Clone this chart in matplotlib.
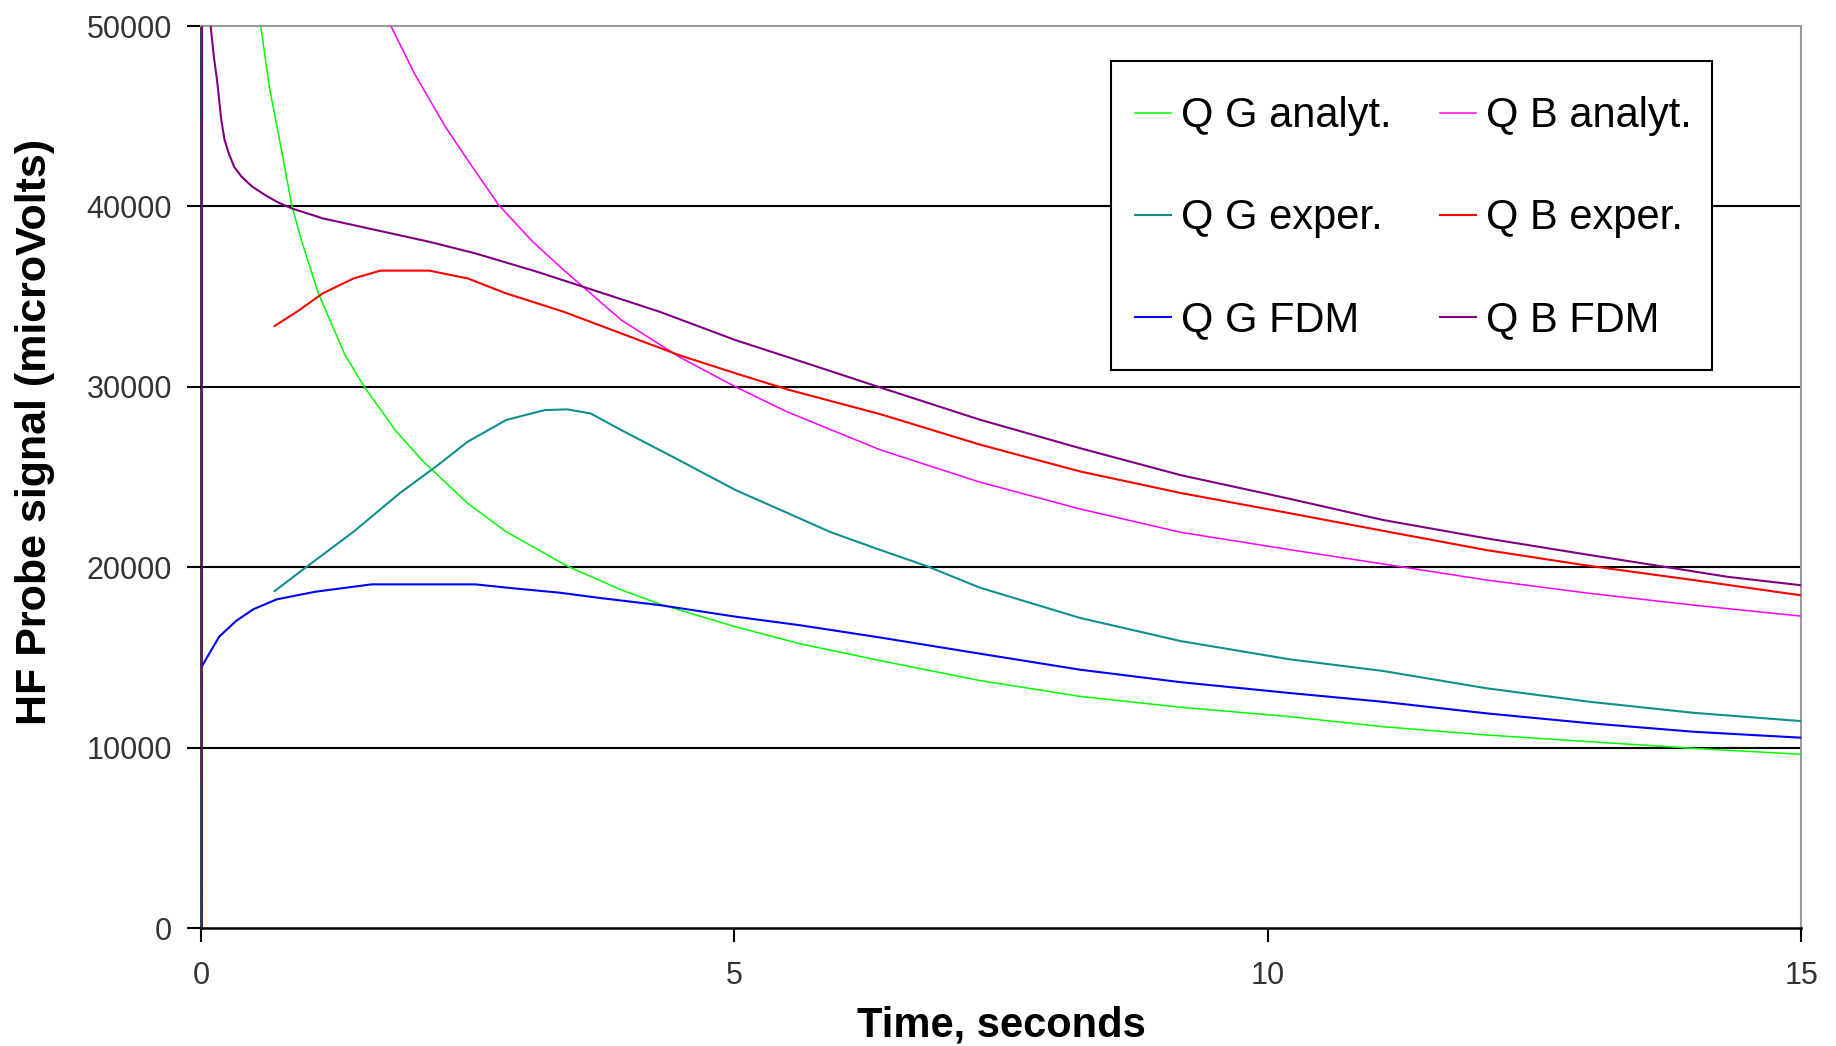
import matplotlib
matplotlib.use("Agg")
import matplotlib.pyplot as plt
from matplotlib.patches import Rectangle

plt.rcParams['font.family'] = ['Liberation Sans', 'DejaVu Sans']

# ---- data (time in s, signal in microvolts) ----
t_qg_an = [0.56, 0.64, 0.76, 0.85, 0.94, 1.10, 1.35, 1.53, 1.82, 2.07, 2.50, 2.86, 3.43,
           3.94, 4.30, 5.01, 5.62, 6.37, 7.30, 8.24, 9.18, 10.2, 11.08, 12.05, 13.02, 13.99, 15.0]
v_qg_an = [50000, 46630, 42940, 40080, 38140, 35180, 31760, 30000, 27600, 25940, 23540, 21970, 20070,
           18740, 17960, 16700, 15750, 14820, 13720, 12840, 12240, 11720, 11160, 10700, 10330, 9960, 9630]

t_qg_ex = [0.69, 1.00, 1.43, 1.86, 2.22, 2.50, 2.86, 3.22, 3.43, 3.65, 3.94, 4.48, 5.01, 5.50,
           5.90, 6.37, 6.80, 7.30, 8.24, 9.18, 10.2, 11.08, 12.05, 13.02, 13.99, 15.0]
v_qg_ex = [18680, 20070, 21970, 24090, 25660, 26960, 28160, 28710, 28750, 28530, 27600, 25940, 24280, 23000,
           21950, 20950, 20070, 18870, 17190, 15910, 14900, 14250, 13290, 12540, 11930, 11470]

t_qg_fdm = [0.01, 0.06, 0.17, 0.33, 0.49, 0.71, 1.07, 1.43, 1.60, 2.57, 2.93, 3.36, 3.76, 4.30,
            5.01, 5.62, 6.37, 7.30, 8.24, 9.18, 10.2, 11.08, 12.05, 13.02, 13.99, 15.0]
v_qg_fdm = [14520, 15040, 16150, 17030, 17670, 18220, 18640, 18920, 19050, 19050, 18830, 18590, 18280, 17900,
            17260, 16780, 16100, 15210, 14320, 13630, 13030, 12540, 11900, 11350, 10880, 10550]

t_qb_an = [1.78, 2.00, 2.29, 2.50, 2.79, 3.11, 3.40, 3.58, 3.94, 4.48, 5.01, 5.50, 6.37, 7.30,
           8.24, 9.18, 10.2, 11.08, 12.05, 13.02, 13.99, 15.0]
v_qb_an = [50000, 47370, 44420, 42570, 40080, 38040, 36470, 35550, 33700, 31670, 30000, 28600, 26500, 24720,
           23230, 21940, 20980, 20180, 19290, 18550, 17900, 17290]

t_qb_ex = [0.69, 0.92, 1.14, 1.43, 1.68, 2.14, 2.50, 2.86, 3.40, 3.94, 4.48, 5.01, 5.50, 6.37,
           7.30, 8.24, 9.18, 10.2, 11.08, 12.05, 13.02, 13.99, 15.0]
v_qb_ex = [33370, 34250, 35180, 36010, 36440, 36440, 36010, 35180, 34160, 32960, 31760, 30750, 29850, 28480,
           26800, 25310, 24120, 23000, 22020, 20950, 20070, 19290, 18440]

t_qb_fdm = [0.0, 0.02, 0.09, 0.12, 0.15, 0.19, 0.22, 0.26, 0.31, 0.38, 0.48, 0.60, 0.72, 0.85, 1.14,
            1.71, 2.14, 2.57, 3.15, 3.58, 4.30, 5.01, 5.50, 6.37, 7.30, 8.24, 9.18, 10.2, 11.08,
            12.05, 13.02, 13.67, 14.31, 15.0]
v_qb_fdm = [0, 120000, 50000, 48300, 47000, 44790, 43700, 42940, 42200, 41650, 41100, 40630, 40230, 39890, 39340,
            38600, 38040, 37400, 36380, 35550, 34160, 32590, 31650, 29960, 28180, 26600, 25110, 23800, 22620,
            21600, 20675, 20070, 19470, 19000]

series = [
    ("Q G analyt.", t_qg_an, v_qg_an, "#00ff00", 1.1),
    ("Q G exper.", t_qg_ex, v_qg_ex, "#0f8f8f", 1.5),
    ("Q G FDM", t_qg_fdm, v_qg_fdm, "#0000ff", 1.5),
    ("Q B analyt.", t_qb_an, v_qb_an, "#ff00ff", 1.1),
    ("Q B exper.", t_qb_ex, v_qb_ex, "#ff0000", 1.5),
    ("Q B FDM", t_qb_fdm, v_qb_fdm, "#800080", 1.5),
]

fig = plt.figure(figsize=(18.36, 10.46), dpi=100)
ax = fig.add_axes([0.1095, 0.1128, 0.8715, 0.8623])

for yv in [10000, 20000, 30000, 40000]:
    ax.axhline(yv, color="black", lw=1.5, zorder=1)

for label, t, v, c, lw in series:
    ax.plot(t, v, color=c, lw=lw, label=label, zorder=3)

ax.set_xlim(0, 15)
ax.set_ylim(0, 50000)
ax.set_xticks([0, 5, 10, 15])
ax.set_yticks([0, 10000, 20000, 30000, 40000, 50000])
ax.set_yticklabels(["0", "10000", "20000", "30000", "40000", "50000"])

ax.tick_params(axis="both", direction="out", length=10, width=1.5, color="black",
               labelsize=22, labelcolor="#333333")
ax.tick_params(axis="x", pad=14)
ax.tick_params(axis="y", pad=11)

for side in ["left", "bottom"]:
    ax.spines[side].set_color("black")
    ax.spines[side].set_linewidth(1.8)
for side in ["top", "right"]:
    ax.spines[side].set_color("#9a9a9a")
    ax.spines[side].set_linewidth(1.5)

ax.set_xlabel("Time, seconds", fontsize=30, fontweight="bold", labelpad=10)
ax.set_ylabel("HF Probe signal (microVolts)", fontsize=31, fontweight="bold", labelpad=20)
ax.yaxis.set_label_coords(-0.091, 0.55)

# legend box drawn separately so padding can differ horizontally / vertically
box = Rectangle((0.569, 0.619), 0.375, 0.342, transform=ax.transAxes, facecolor="white",
                edgecolor="black", lw=1.5, zorder=4)
ax.add_patch(box)

leg = ax.legend(ncol=2, loc="upper left", bbox_to_anchor=(0.584, 0.922), borderaxespad=0,
                fontsize=30, frameon=False, handlelength=0.86, handletextpad=0.24,
                columnspacing=1.15, labelspacing=1.49, borderpad=0)
leg.set_zorder(5)

fig.savefig("out.png", dpi=100, facecolor="white")
